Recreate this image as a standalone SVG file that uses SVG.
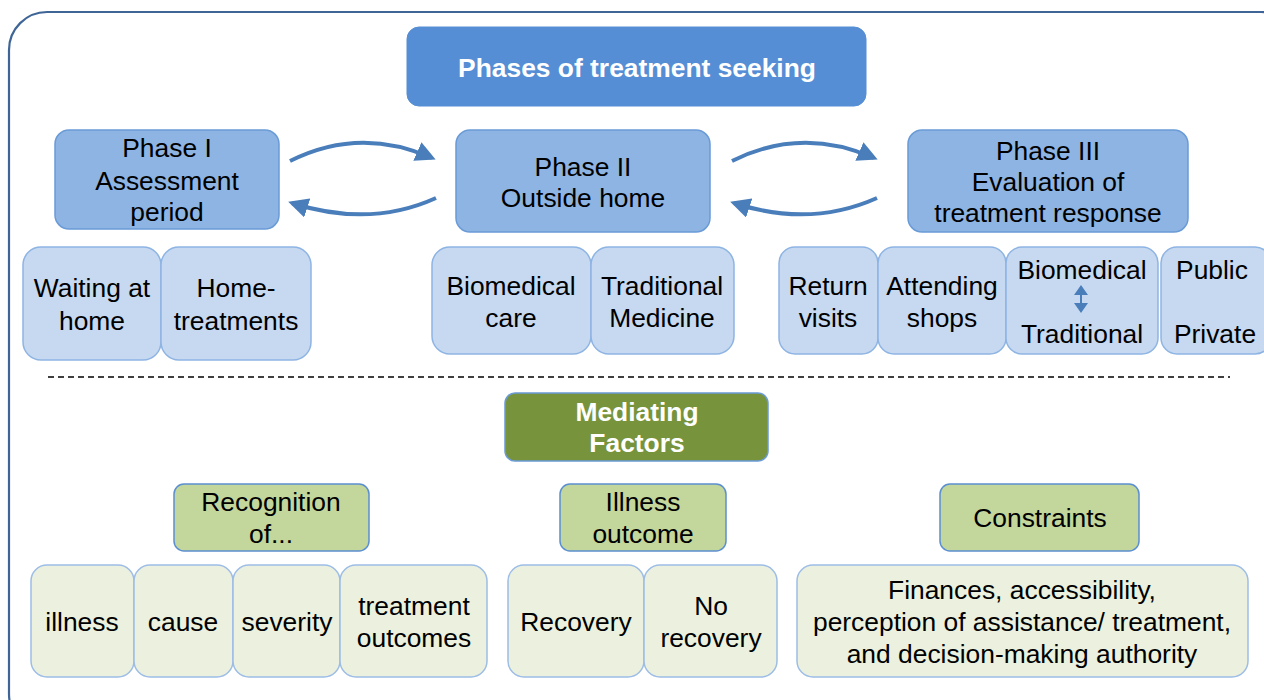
<svg xmlns="http://www.w3.org/2000/svg" width="1264" height="700" viewBox="0 0 1264 700">
<defs>
<style>
text{font-family:"Liberation Sans",Arial,sans-serif;font-size:26.4px;fill:#000;text-anchor:middle}
.w{fill:#fff;font-weight:bold}
.title{fill:#558ed5;stroke:#558ed5;stroke-width:1}
.phase{fill:#8eb4e3;stroke:#6a9bd6;stroke-width:1.5}
.sub{fill:#c6d9f1;stroke:#8eb4e3;stroke-width:1.5}
.med{fill:#77933c;stroke:#6a9bd6;stroke-width:1.5}
.cat{fill:#c3d69b;stroke:#5b8fd0;stroke-width:1.5}
.item{fill:#ebf1de;stroke:#9dbde6;stroke-width:1.5}
.arc{fill:none;stroke:#4a7ebb;stroke-width:4}
</style>
<marker id="ah" viewBox="0 0 10 10" refX="8" refY="5" markerWidth="20" markerHeight="20" markerUnits="userSpaceOnUse" orient="auto">
<path d="M0,0 L10,5 L0,10 z" fill="#4a7ebb"/>
</marker>
</defs>
<rect x="0" y="0" width="1264" height="700" fill="#fff"/>
<rect x="9" y="12" width="1290" height="720" rx="38" fill="none" stroke="#3f6597" stroke-width="2.2"/>

<g id="title"><rect class="title" x="407" y="27" width="459" height="79" rx="12"/><text class="w" x="637" y="77">Phases of treatment seeking</text></g>

<g id="phase1"><rect class="phase" x="55" y="130" width="224" height="99" rx="14"/><text x="167" y="157">Phase I</text><text x="167" y="190">Assessment</text><text x="167" y="221">period</text></g>
<g id="phase2"><rect class="phase" x="456" y="130" width="254" height="102" rx="14"/><text x="583" y="176">Phase II</text><text x="583" y="207">Outside home</text></g>
<g id="phase3"><rect class="phase" x="908" y="130" width="280" height="102" rx="14"/><text x="1048" y="160">Phase III</text><text x="1048" y="191">Evaluation of</text><text x="1048" y="222">treatment response</text></g>

<g id="connectors">
<path class="arc" d="M290,161 Q360,126 432,158" marker-end="url(#ah)"/>
<path class="arc" d="M436,198 Q370,228 292,203" marker-end="url(#ah)"/>
<path class="arc" d="M732,161 Q802,126 874,158" marker-end="url(#ah)"/>
<path class="arc" d="M877,198 Q810,228 734,203" marker-end="url(#ah)"/>
</g>

<g id="waiting"><rect class="sub" x="23" y="247" width="138" height="113" rx="18"/><text x="92" y="297">Waiting at</text><text x="92" y="330">home</text></g>
<g id="hometreat"><rect class="sub" x="161" y="247" width="150" height="113" rx="18"/><text x="236" y="297">Home-</text><text x="236" y="330">treatments</text></g>
<g id="biocare"><rect class="sub" x="432" y="247" width="159" height="107" rx="18"/><text x="511" y="295">Biomedical</text><text x="511" y="327">care</text></g>
<g id="tradmed"><rect class="sub" x="591" y="247" width="143" height="107" rx="18"/><text x="662" y="295">Traditional</text><text x="662" y="327">Medicine</text></g>
<g id="return"><rect class="sub" x="779" y="247" width="99" height="107" rx="16"/><text x="828" y="295">Return</text><text x="828" y="327">visits</text></g>
<g id="shops"><rect class="sub" x="878" y="247" width="128" height="107" rx="16"/><text x="942" y="295">Attending</text><text x="942" y="327">shops</text></g>
<g id="biotrad"><rect class="sub" x="1006" y="247" width="152" height="107" rx="16"/><text x="1082" y="279">Biomedical</text><text x="1082" y="343">Traditional</text>
<path d="M1081,290 L1081,308" stroke="#4a7ebb" stroke-width="2"/><path d="M1074,295 L1081,285 L1088,295 z M1074,303 L1081,313 L1088,303 z" fill="#4a7ebb"/></g>
<g id="pubpriv"><rect class="sub" x="1161" y="247" width="110" height="107" rx="16"/><text x="1212" y="279">Public</text><text x="1215" y="343">Private</text></g>

<line x1="48" y1="377" x2="1230" y2="377" stroke="#000" stroke-width="1.5" stroke-dasharray="6,4"/>

<g id="mediating"><rect class="med" x="505" y="393" width="263" height="68" rx="10"/><text class="w" x="637" y="421">Mediating</text><text class="w" x="637" y="452">Factors</text></g>
<g id="recognition"><rect class="cat" x="174" y="484" width="195" height="67" rx="10"/><text x="271" y="511">Recognition</text><text x="271" y="543">of...</text></g>
<g id="illnessoutcome"><rect class="cat" x="560" y="484" width="166" height="67" rx="10"/><text x="643" y="511">Illness</text><text x="643" y="543">outcome</text></g>
<g id="constraints"><rect class="cat" x="940" y="484" width="199" height="67" rx="10"/><text x="1040" y="527">Constraints</text></g>

<g id="illness"><rect class="item" x="31" y="565" width="103" height="112" rx="16"/><text x="82" y="631">illness</text></g>
<g id="cause"><rect class="item" x="134" y="565" width="99" height="112" rx="16"/><text x="183" y="631">cause</text></g>
<g id="severity"><rect class="item" x="233" y="565" width="107" height="112" rx="16"/><text x="287" y="631">severity</text></g>
<g id="treatoutcomes"><rect class="item" x="340" y="565" width="147" height="112" rx="16"/><text x="414" y="615">treatment</text><text x="414" y="647">outcomes</text></g>
<g id="recovery"><rect class="item" x="508" y="565" width="136" height="112" rx="16"/><text x="576" y="631">Recovery</text></g>
<g id="norecovery"><rect class="item" x="644" y="565" width="133" height="112" rx="16"/><text x="711" y="615">No</text><text x="711" y="647">recovery</text></g>
<g id="finances"><rect class="item" x="797" y="565" width="451" height="112" rx="16"/><text x="1022" y="599">Finances, accessibility,</text><text x="1022" y="631">perception of assistance/ treatment,</text><text x="1022" y="663">and decision-making authority</text></g>
</svg>
